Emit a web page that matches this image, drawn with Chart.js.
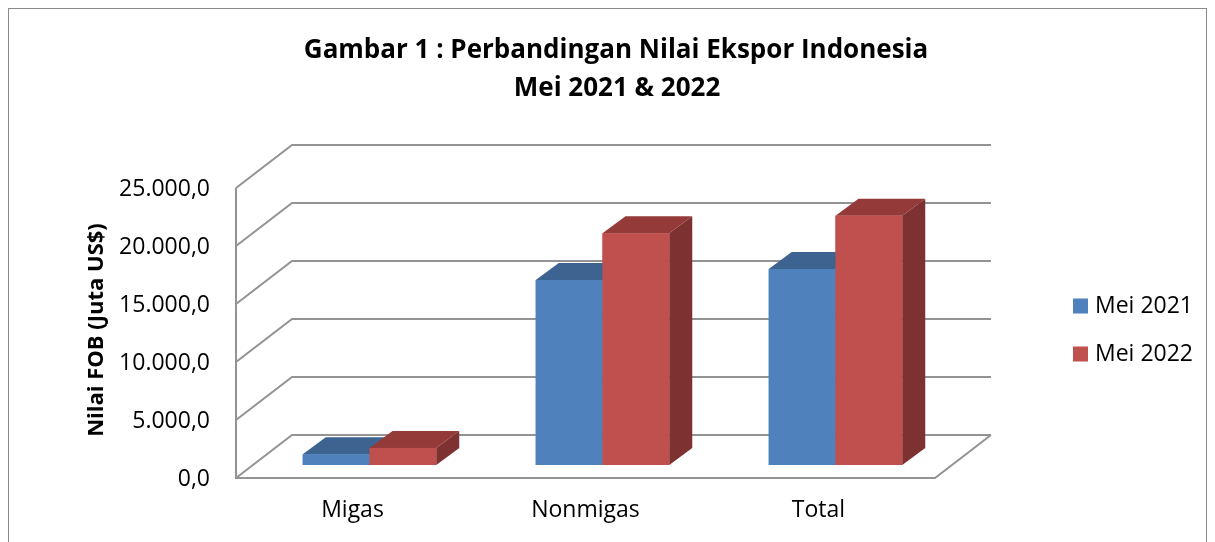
<!DOCTYPE html>
<html>
<head>
<meta charset="utf-8">
<script src="https://cdn.jsdelivr.net/npm/chart.js@4.4.1/dist/chart.umd.min.js"></script>
<style>
  html, body { margin: 0; padding: 0; background: #fff; }
  canvas { display: block; }
</style>
</head>
<body>
<canvas id="chart" width="1215" height="542"></canvas>
<script>
const categories = ['Migas', 'Nonmigas', 'Total']
const mei2021 = [920, 15950, 16900]
const mei2022 = [1470, 19970, 21490]
const seriesLabels = ['Mei 2021', 'Mei 2022']
const yTickLabels = ['0,0', '5.000,0', '10.000,0', '15.000,0', '20.000,0', '25.000,0']
const titleLines = ['Gambar 1 : Perbandingan Nilai Ekspor Indonesia', 'Mei 2021 & 2022']
const yAxisTitle = 'Nilai FOB (Juta US$)'

const FONT = '"Open Sans", "Noto Sans", sans-serif'
const GRID_COLOR = '#939393'
// offsets of the 3D planes relative to the bar front plane (the chart area)
const FRONT = { dx: -17, dy: 13 }
const BACK = { dx: 39, dy: -30 }
const DEPTH = { dx: 23, dy: -17 }

const faces = [
  { front: '#4F81BD', top: '#3D6491', side: '#385D8A' },
  { front: '#C0504D', top: '#943B39', side: '#7D3130' },
]

function poly(ctx, pts, color) {
  ctx.beginPath()
  ctx.moveTo(pts[0][0], pts[0][1])
  for (let i = 1; i < pts.length; i++) ctx.lineTo(pts[i][0], pts[i][1])
  ctx.closePath()
  ctx.fillStyle = color
  ctx.fill()
}

const chart3d = {
  id: 'chart3d',
  beforeDraw(chart) {
    const { ctx, width, height } = chart
    ctx.save()
    ctx.fillStyle = '#fff'
    ctx.fillRect(0, 0, width, height)
    ctx.strokeStyle = '#8a8a8a'
    ctx.lineWidth = 1
    ctx.strokeRect(8.5, 8.5, width - 17, height + 20)
    ctx.restore()
  },
  beforeDatasetsDraw(chart) {
    const { ctx, chartArea: area } = chart
    const y = chart.scales.y
    const fl = area.left + FRONT.dx
    const fr = area.right + FRONT.dx
    const bl = area.left + BACK.dx
    const br = area.right + BACK.dx
    const y0 = y.getPixelForValue(0)
    ctx.save()
    ctx.strokeStyle = GRID_COLOR
    ctx.lineWidth = 2
    ctx.beginPath()
    y.ticks.forEach(t => {
      const py = y.getPixelForValue(t.value)
      ctx.moveTo(fl, py + FRONT.dy)
      ctx.lineTo(bl, py + BACK.dy)
      ctx.lineTo(br, py + BACK.dy)
    })
    ctx.moveTo(fl, y.getPixelForValue(y.max) + FRONT.dy)
    ctx.lineTo(fl, y0 + FRONT.dy)
    ctx.lineTo(fr, y0 + FRONT.dy)
    ctx.lineTo(br, y0 + BACK.dy)
    ctx.stroke()
    ctx.restore()
  },
  afterDatasetsDraw(chart) {
    const { ctx } = chart
    const metas = chart.data.datasets.map((d, i) => chart.getDatasetMeta(i))
    ctx.save()
    categories.forEach((c, i) => {
      metas.forEach((meta, di) => {
        const { x, y, base, width } = meta.data[i].getProps(['x', 'y', 'base', 'width'], true)
        const l = x - width / 2
        const r = x + width / 2
        const f = faces[di]
        poly(ctx, [[r, base], [r + DEPTH.dx, base + DEPTH.dy], [r + DEPTH.dx, y + DEPTH.dy], [r, y]], f.side)
        poly(ctx, [[l, y], [l + DEPTH.dx, y + DEPTH.dy], [r + DEPTH.dx, y + DEPTH.dy], [r, y]], f.top)
        ctx.fillStyle = f.front
        ctx.fillRect(l, y, width, base - y)
      })
    })
    ctx.restore()
  },
  afterDraw(chart) {
    const { ctx } = chart
    ctx.save()
    ctx.fillStyle = '#000'
    ctx.textAlign = 'center'
    ctx.textBaseline = 'middle'
    ctx.font = 'bold 26px ' + FONT
    ctx.fillText(titleLines[0], 616, 51)
    ctx.fillText(titleLines[1], 617, 88.5)

    ctx.save()
    ctx.translate(97, 330)
    ctx.rotate(-Math.PI / 2)
    ctx.font = 'bold 22px ' + FONT
    ctx.fillText(yAxisTitle, 0, 0)
    ctx.restore()

    ctx.textAlign = 'left'
    ctx.font = '23px ' + FONT
    const legendY = [306, 354]
    seriesLabels.forEach((label, i) => {
      ctx.fillStyle = faces[i].front
      ctx.fillRect(1073, legendY[i] - 7.5, 15, 15)
      ctx.fillStyle = '#000'
      ctx.fillText(label, 1095, legendY[i])
    })
    ctx.restore()
  },
}

new Chart(document.getElementById('chart'), {
  type: 'bar',
  data: {
    labels: categories,
    datasets: [
      { label: seriesLabels[0], data: mei2021, backgroundColor: faces[0].front },
      { label: seriesLabels[1], data: mei2022, backgroundColor: faces[1].front },
    ],
  },
  options: {
    responsive: false,
    animation: false,
    events: [],
    layout: { padding: { top: 175, right: 263, bottom: 0, left: 0 } },
    datasets: { bar: { categoryPercentage: 0.573, barPercentage: 1 } },
    scales: {
      x: {
        grid: { display: false, drawTicks: false },
        border: { display: false },
        ticks: {
          color: '#000',
          font: { family: FONT, size: 23 },
          padding: 32,
          labelOffset: FRONT.dx,
          maxRotation: 0,
        },
        afterFit(scale) { scale.height = 77 },
      },
      y: {
        min: 0,
        max: 25000,
        grid: { display: false, drawTicks: false },
        border: { display: false },
        ticks: {
          stepSize: 5000,
          color: '#000',
          font: { family: FONT, size: 23 },
          padding: 43,
          labelOffset: 14,
          callback: (value, index) => yTickLabels[index],
        },
        afterFit(scale) { scale.width = 253 },
      },
    },
    plugins: {
      legend: { display: false },
      title: { display: false },
      tooltip: { enabled: false },
    },
  },
  plugins: [chart3d],
})
</script>
</body>
</html>
